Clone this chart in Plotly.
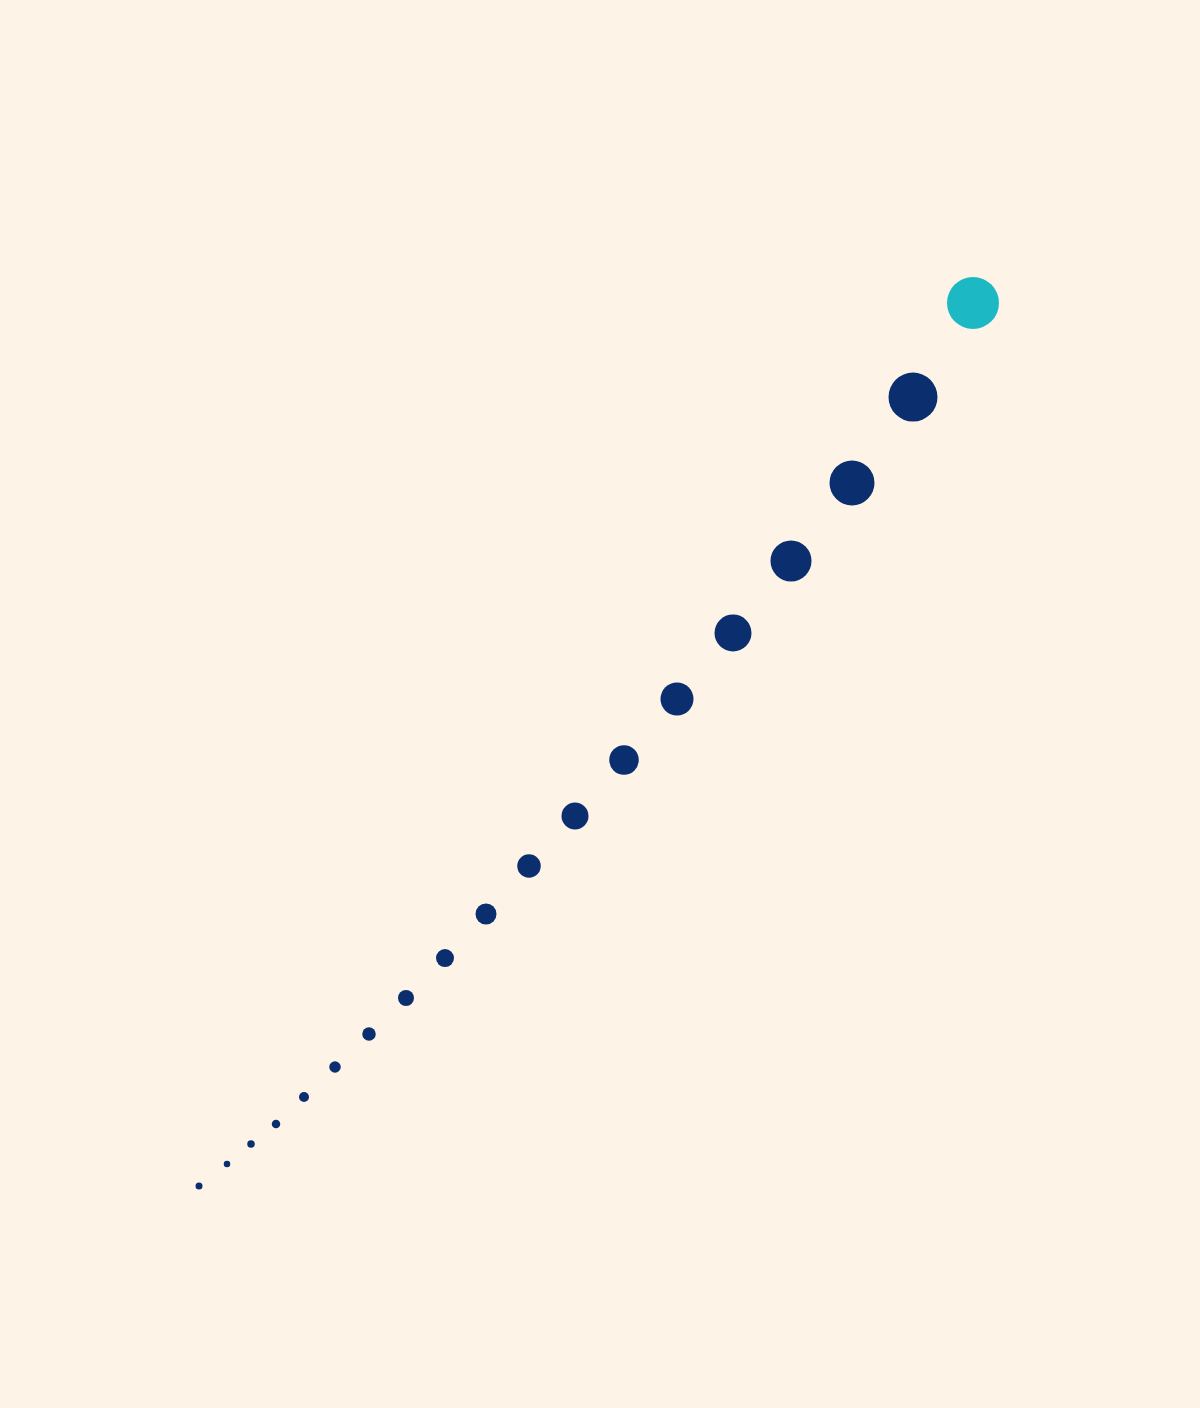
import plotly.graph_objects as go

# Data (arbitrary units, 0-100 scale)
x_vals = [9.9, 12.7, 15.1, 17.6, 20.4, 23.5, 26.9, 30.6, 34.5, 38.6,
          42.9, 47.5, 52.4, 57.7, 63.3, 69.1, 75.2, 81.3, 87.3]
y_vals = [9.83, 11.67, 13.33, 15.0, 17.25, 19.75, 22.5, 25.5, 28.83, 32.5,
          36.5, 40.67, 45.33, 50.42, 55.92, 61.92, 68.42, 75.58, 83.42]
size_vals = [7, 6.5, 7.5, 8.5, 10, 11.5, 13.5, 16, 18, 21,
             23.5, 27, 29.5, 33, 37, 41, 45, 49, 52]

NAVY = "#0A2E6E"
TEAL = "#1CB9C5"
BG = "#FDF4E7"

colors = [NAVY] * (len(x_vals) - 1) + [TEAL]

fig = go.Figure(
    go.Scatter(
        x=x_vals,
        y=y_vals,
        mode="markers",
        marker=dict(size=size_vals, color=colors, sizemode="diameter",
                    line=dict(width=0), opacity=1),
        hoverinfo="x+y",
        showlegend=False,
    )
)

fig.update_layout(
    width=1200,
    height=1408,
    margin=dict(l=100, r=100, t=104, b=104),
    paper_bgcolor=BG,
    plot_bgcolor=BG,
    xaxis=dict(range=[0, 100], visible=False, showgrid=False, zeroline=False),
    yaxis=dict(range=[0, 100], visible=False, showgrid=False, zeroline=False),
)

fig.write_html(
    "out.html",
    config={"displayModeBar": False},
    post_script="document.body.style.margin='0';document.body.style.background='%s';"
                "document.body.style.overflow='hidden';" % BG,
)
